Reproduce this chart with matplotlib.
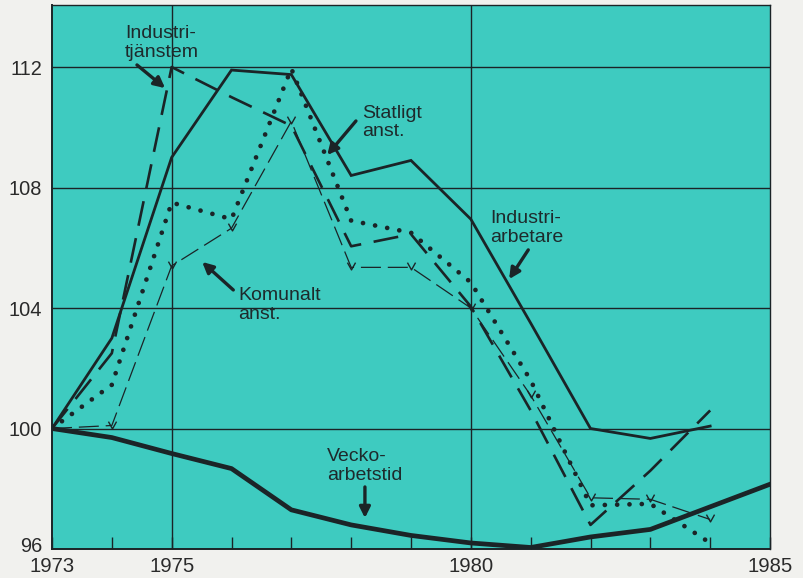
import matplotlib
matplotlib.use("Agg")
import matplotlib.pyplot as plt
from matplotlib.path import Path
from matplotlib.transforms import ScaledTranslation

plt.rcParams['font.family'] = ['Liberation Sans', 'DejaVu Sans']

years = list(range(1973, 1986))
industriarbetare = [100.0, 103.0, 109.0, 111.9, 111.75, 108.4, 108.9, 106.95, 103.5, 100.0, 99.67, 100.08]
industritjanstem = [100.0, 102.5, 112.0, 111.0, 110.05, 106.05, 106.45, 104.05, 100.6, 96.8, 98.6, 100.6]
statligt = [100.0, 101.45, 107.5, 106.95, 111.95, 106.9, 106.5, 104.85, 101.6, 97.45, 97.5, 96.2]
komunalt = [100.0, 100.1, 105.4, 106.65, 110.2, 105.35, 105.35, 104.0, 101.1, 97.7, 97.65, 96.98]
veckoarbetstid = [100.0, 99.7, 99.17, 98.67, 97.3, 96.8, 96.45, 96.2, 96.05, 96.4, 96.65, 97.4, 98.15]

ytick_vals = [96, 100, 104, 108, 112]
xtick_labels = [1973, 1975, 1980, 1985]

ink = '#1b2427'
bg = '#3ecbc0'

fig = plt.figure(figsize=(8.04, 5.78), dpi=100)
fig.patch.set_facecolor('#f1f1ee')
ax = fig.add_axes([52/804, 1-549/578, (770-52)/804, (549-5)/578])
ax.set_facecolor(bg)
ax.set_xlim(1973, 1985)
ax.set_ylim(96, 114.06)

# grid
for v in [100, 104, 108, 112]:
    ax.axhline(v, color=ink, lw=1.0, zorder=1)
for v in [1975, 1980]:
    ax.axvline(v, color=ink, lw=1.0, zorder=1)

for s in ax.spines.values():
    s.set_color(ink)
    s.set_linewidth(1.0)
ax.spines['left'].set_linewidth(1.4)
ax.spines['bottom'].set_linewidth(1.4)

ax.set_yticks(ytick_vals)
ax.set_yticklabels([str(v) for v in ytick_vals])
ax.set_xticks(xtick_labels)
ax.set_xticklabels([str(v) for v in xtick_labels])
ax.set_xticks(years, minor=True)
ax.tick_params(axis='y', length=0, pad=7, labelsize=14.4, labelcolor='#2a2a2a')
ax.tick_params(axis='x', which='both', direction='in', length=8.6, width=1.0, color=ink, pad=6,
               labelsize=14.6, labelcolor='#2a2a2a')

fig.canvas.draw()
lbl96 = ax.get_yticklabels()[0]
lbl96.set_transform(lbl96.get_transform() + ScaledTranslation(0, 5/100, fig.dpi_scale_trans))

n = len(industriarbetare)
ax.plot(years[:n], industriarbetare, color=ink, lw=2.0, solid_joinstyle='miter', zorder=4)
ax.plot(years, veckoarbetstid, color=ink, lw=3.4, solid_joinstyle='round', zorder=4)
ax.plot(years[:n], industritjanstem, color=ink, lw=1.9, linestyle=(0, (9.5, 4.8)), zorder=4)
ax.plot(years[:n], statligt, color=ink, lw=3.4, linestyle=(0, (0.01, 2.6)),
        dash_capstyle='round', zorder=4)

vpath = Path([(-1, 1.2), (0, -0.6), (1, 1.2)], [Path.MOVETO, Path.LINETO, Path.LINETO])
ax.plot(years[:n], komunalt, color=ink, lw=0.9, linestyle=(0, (16, 5.5)), zorder=4)
ax.plot(years[1:n], komunalt[1:], linestyle='none', marker=vpath, markersize=7,
        markerfacecolor='none', markeredgecolor=ink, markeredgewidth=1.0, zorder=5)

fs = 14
tc = '#1e2a2c'
kw = dict(fontsize=fs, color=tc, ha='left', va='center', linespacing=1.1)
ax.text(1974.22, 112.8, 'Industri-\ntjänstem', **kw)
ax.text(1978.18, 110.17, 'Statligt\nanst.', **kw)
ax.text(1976.11, 104.10, 'Komunalt\nanst.', **kw)
ax.text(1980.32, 106.66, 'Industri-\narbetare', **kw)
ax.text(1977.6, 98.76, 'Vecko-\narbetstid', **kw)

arrows = [
    ((1974.42, 112.07), (1974.89, 111.30)),
    ((1978.08, 110.21), (1977.60, 109.08)),
    ((1976.03, 104.60), (1975.51, 105.53)),
    ((1980.96, 105.93), (1980.64, 104.96)),
    ((1978.23, 98.06), (1978.23, 97.03)),
]
for tail, head in arrows:
    ax.annotate('', xy=head, xytext=tail,
                arrowprops=dict(arrowstyle='-|>', lw=2.4, color=ink, mutation_scale=16,
                                shrinkA=0, shrinkB=0), zorder=6)

fig.savefig('out.png', dpi=100, facecolor=fig.get_facecolor())
